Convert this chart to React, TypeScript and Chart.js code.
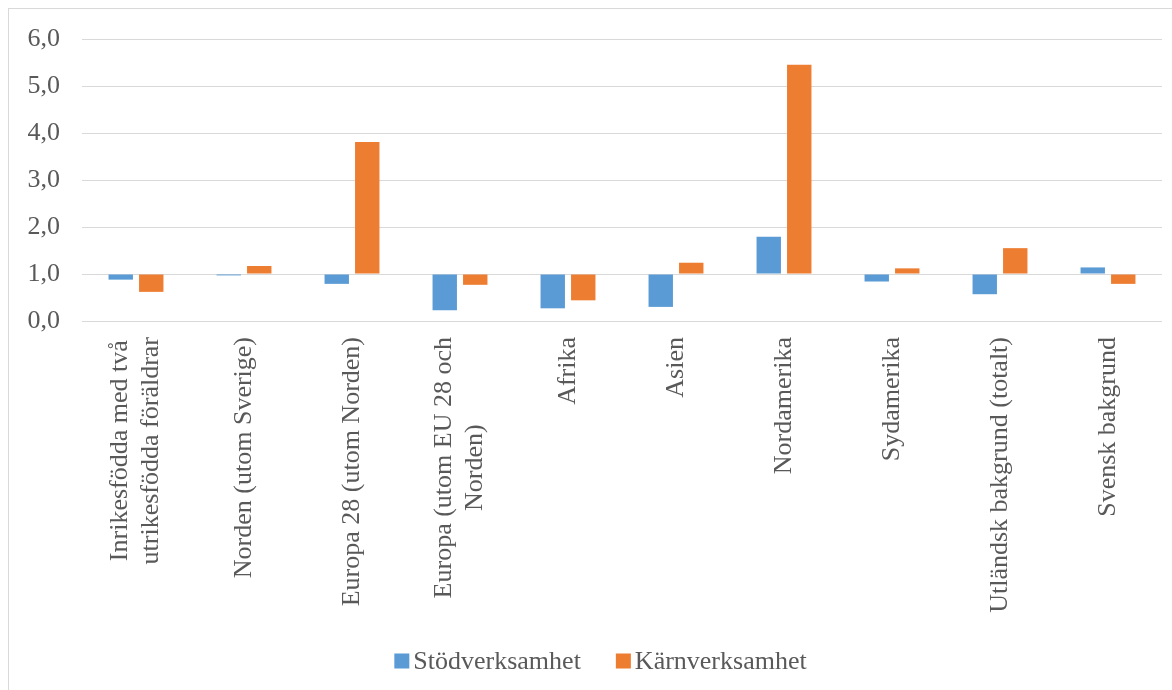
import React, { useEffect, useRef } from 'react';
import { Chart, registerables } from 'chart.js';

Chart.register(...registerables);

const categories: (string | string[])[] = [
  ['Inrikesfödda med två', 'utrikesfödda föräldrar'],
  'Norden (utom Sverige)',
  'Europa 28 (utom Norden)',
  ['Europa (utom EU 28 och', 'Norden)'],
  'Afrika',
  'Asien',
  'Nordamerika',
  'Sydamerika',
  'Utländsk bakgrund (totalt)',
  'Svensk bakgrund',
];

const stodverksamhet = [0.88, 0.97, 0.79, 0.23, 0.27, 0.3, 1.79, 0.84, 0.57, 1.14];
const karnverksamhet = [0.62, 1.17, 3.81, 0.77, 0.44, 1.24, 5.45, 1.12, 1.55, 0.79];
const seriesNames = ['Stödverksamhet', 'Kärnverksamhet'];
const seriesColors = ['#5B9BD5', '#ED7D31'];
const yTickLabels = ['0,0', '1,0', '2,0', '3,0', '4,0', '5,0', '6,0'];
const baseValue = 1;

const FAMILY = "'Liberation Serif', 'Times New Roman', serif";
const FONT_SIZE = 26;
const TEXT_COLOR = '#595959';
const GRID_COLOR = '#d9d9d9';

const customLabels = {
  id: 'customLabels',
  afterDraw(chart: any) {
    const ctx = chart.ctx as CanvasRenderingContext2D;
    const xs = chart.scales.x;
    const area = chart.chartArea;
    ctx.save();
    ctx.font = `${FONT_SIZE}px ${FAMILY}`;
    ctx.fillStyle = TEXT_COLOR;
    const lh = 31;
    categories.forEach((cat, i) => {
      const lines = Array.isArray(cat) ? cat : [cat];
      const x = xs.getPixelForValue(i);
      const w = Math.max(...lines.map((l) => ctx.measureText(l).width));
      ctx.save();
      ctx.translate(x, area.bottom + 16);
      ctx.rotate(-Math.PI / 2);
      ctx.textAlign = 'center';
      ctx.textBaseline = 'middle';
      lines.forEach((l, k) => {
        ctx.fillText(l, -w / 2, (k - (lines.length - 1) / 2) * lh);
      });
      ctx.restore();
    });

    // legend
    const box = 15;
    const gap = 4;
    const itemGap = 35;
    const widths = seriesNames.map((n) => box + gap + ctx.measureText(n).width);
    const total = widths.reduce((a, b) => a + b, 0) + itemGap * (seriesNames.length - 1);
    let lx = chart.width / 2 + 10 - total / 2;
    const ly = chart.height - 29;
    ctx.textAlign = 'left';
    ctx.textBaseline = 'middle';
    seriesNames.forEach((n, i) => {
      ctx.fillStyle = seriesColors[i];
      ctx.fillRect(lx, ly - box / 2, box, box);
      ctx.fillStyle = TEXT_COLOR;
      ctx.fillText(n, lx + box + gap, ly + 1);
      lx += widths[i] + itemGap;
    });
    ctx.restore();
  },
};

export default function App() {
  const canvasRef = useRef<HTMLCanvasElement | null>(null);

  useEffect(() => {
    if (!canvasRef.current) return;
    const chart = new Chart(canvasRef.current, {
      type: 'bar',
      data: {
        labels: categories,
        datasets: [
          {
            label: seriesNames[0],
            data: stodverksamhet,
            base: baseValue,
            backgroundColor: seriesColors[0],
            borderWidth: 0,
            categoryPercentage: 0.565,
            barPercentage: 0.8,
          } as any,
          {
            label: seriesNames[1],
            data: karnverksamhet,
            base: baseValue,
            backgroundColor: seriesColors[1],
            borderWidth: 0,
            categoryPercentage: 0.565,
            barPercentage: 0.8,
          } as any,
        ],
      },
      options: {
        animation: false,
        responsive: true,
        maintainAspectRatio: false,
        layout: { padding: { left: 0, right: 10, top: 30, bottom: 48 } },
        plugins: {
          legend: { display: false },
          tooltip: { enabled: false },
        },
        scales: {
          x: {
            afterFit: (s: any) => {
              s.height = 321;
              s.paddingLeft = 0;
              s.paddingRight = 0;
            },
            ticks: { display: false },
            grid: { display: false },
            border: { display: false },
          },
          y: {
            min: 0,
            max: 6,
            afterFit: (s: any) => {
              s.width = 73;
              s.paddingTop = 0;
              s.paddingBottom = 0;
            },
            ticks: {
              stepSize: 1,
              padding: 22,
              color: TEXT_COLOR,
              font: { family: FAMILY, size: FONT_SIZE },
              callback: (_v: any, i: number) => yTickLabels[i],
            },
            grid: { color: GRID_COLOR, lineWidth: 1, drawTicks: false },
            border: { display: false },
          },
        },
      },
      plugins: [customLabels],
    });
    return () => chart.destroy();
  }, []);

  return (
    <div
      style={{
        position: 'fixed',
        left: 8,
        top: 8,
        width: 1163,
        height: 681,
        borderLeft: `1px solid ${GRID_COLOR}`,
        borderTop: `1px solid ${GRID_COLOR}`,
        background: '#fff',
      }}
    >
      <div style={{ position: 'relative', width: 1163, height: 681 }}>
        <canvas ref={canvasRef} />
      </div>
    </div>
  );
}
